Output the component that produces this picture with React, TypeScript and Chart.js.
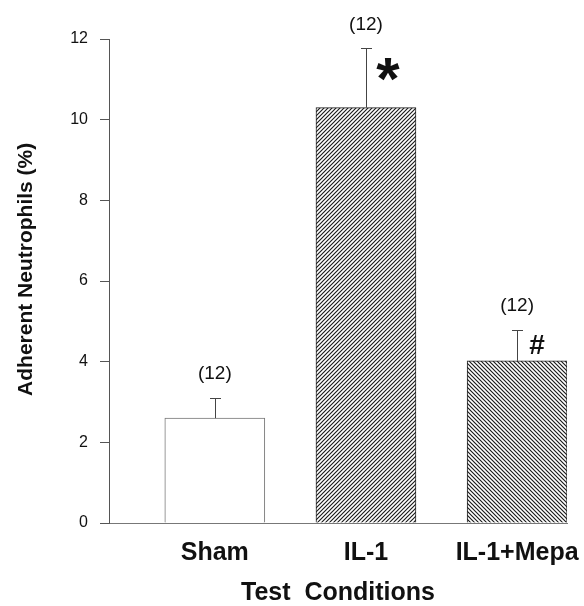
import React, { useEffect, useRef } from "react";
import { Chart, registerables } from "chart.js";

Chart.register(...registerables);

const categories = ["Sham", "IL-1", "IL-1+Mepa"];
const meanValues = [2.6, 10.3, 4.02];
const errorValues = [0.5, 1.47, 0.77];
const sampleLabels = ["(12)", "(12)", "(12)"];
const significanceMarks = ["", "*", "#"];
const yTickValues = [0, 2, 4, 6, 8, 10, 12];

const FONT = "Arial, 'Liberation Sans', Helvetica, sans-serif";

function makeHatch(dir: "slash" | "backslash"): CanvasPattern | string {
  const s = 4;
  const c = document.createElement("canvas");
  c.width = s;
  c.height = s;
  const g = c.getContext("2d");
  if (!g) return "#888";
  g.fillStyle = "#ffffff";
  g.fillRect(0, 0, s, s);
  g.strokeStyle = "#1a1a1a";
  g.lineWidth = 1.15;
  g.beginPath();
  if (dir === "slash") {
    g.moveTo(-1, s + 1);
    g.lineTo(s + 1, -1);
    g.moveTo(-1, 1);
    g.lineTo(1, -1);
    g.moveTo(s - 1, s + 1);
    g.lineTo(s + 1, s - 1);
  } else {
    g.moveTo(-1, -1);
    g.lineTo(s + 1, s + 1);
    g.moveTo(-1, s - 1);
    g.lineTo(1, s + 1);
    g.moveTo(s - 1, -1);
    g.lineTo(s + 1, 1);
  }
  g.stroke();
  const p = g.createPattern(c, "repeat");
  return p || "#888";
}

function drawCentered(ctx: CanvasRenderingContext2D, text: string, x: number, cy: number) {
  const m = ctx.measureText(text);
  const asc = m.actualBoundingBoxAscent;
  const desc = m.actualBoundingBoxDescent;
  ctx.textAlign = "center";
  ctx.textBaseline = "alphabetic";
  ctx.fillText(text, x, cy + (asc - desc) / 2);
}

const annotationPlugin = {
  id: "errorAndNotes",
  afterDatasetsDraw(chart: any) {
    const ctx: CanvasRenderingContext2D = chart.ctx;
    const meta = chart.getDatasetMeta(0);
    const yScale = chart.scales.y;
    ctx.save();
    meta.data.forEach((bar: any, i: number) => {
      const x = bar.x;
      const top = yScale.getPixelForValue(meanValues[i] + errorValues[i]);
      ctx.strokeStyle = "#444";
      ctx.lineWidth = 1;
      ctx.beginPath();
      ctx.moveTo(Math.round(x) + 0.5, bar.y);
      ctx.lineTo(Math.round(x) + 0.5, Math.round(top) + 0.5);
      ctx.moveTo(Math.round(x) - 5, Math.round(top) + 0.5);
      ctx.lineTo(Math.round(x) + 6, Math.round(top) + 0.5);
      ctx.stroke();

      ctx.fillStyle = "#111";
      ctx.font = `19px ${FONT}`;
      drawCentered(ctx, sampleLabels[i], x, top - 23);

      const mark = significanceMarks[i];
      if (mark === "*") {
        ctx.font = `bold 60px ${FONT}`;
        drawCentered(ctx, mark, x + 22, top + 21);
      } else if (mark === "#") {
        ctx.font = `bold 28px ${FONT}`;
        drawCentered(ctx, mark, x + 20, top + 15);
      }
    });
    ctx.restore();
  },
};

export default function App() {
  const ref = useRef<HTMLCanvasElement | null>(null);

  useEffect(() => {
    document.body.style.margin = "0";
    const canvas = ref.current;
    if (!canvas) return;
    const fills = ["#ffffff", makeHatch("slash"), makeHatch("backslash")];
    const borders = ["#777777", "#222222", "#222222"];

    const chart = new Chart(canvas, {
      type: "bar",
      data: {
        datasets: [
          {
            data: categories.map((_, i) => ({ x: i + 1, y: meanValues[i] })) as any,
            backgroundColor: fills as any,
            borderColor: borders,
            borderWidth: 1,
            barThickness: 100,
          },
        ],
      },
      options: {
        responsive: false,
        animation: false,
        devicePixelRatio: 1,
        layout: { padding: { top: 39, right: 17, left: 0, bottom: 0 } },
        plugins: {
          legend: { display: false },
          tooltip: { enabled: false },
        },
        scales: {
          x: {
            type: "linear",
            offset: false,
            min: 0.3,
            max: 3.33,
            afterBuildTicks: (scale: any) => {
              scale.ticks = categories.map((_, i) => ({ value: i + 1 }));
            },
            afterFit: (scale: any) => {
              scale.height = 83;
              scale.paddingLeft = 0;
              scale.paddingRight = 0;
            },
            grid: { display: false, offset: false },
            border: { display: true, color: "#777", width: 1 },
            ticks: {
              autoSkip: false,
              maxRotation: 0,
              padding: 10,
              color: "#111",
              font: { family: FONT, size: 25, weight: "bold", lineHeight: 1 },
              callback: (v: any) => categories[Number(v) - 1] ?? "",
            },
            title: {
              display: true,
              text: "Test  Conditions",
              color: "#111",
              font: { family: FONT, size: 25, weight: "bold", lineHeight: 1 },
              padding: { top: 0, bottom: 0 },
            },
          },
          y: {
            min: 0,
            max: 12,
            afterBuildTicks: (scale: any) => {
              scale.ticks = yTickValues.map((v) => ({ value: v }));
            },
            afterFit: (scale: any) => {
              scale.width = 109;
            },
            grid: {
              display: true,
              drawOnChartArea: false,
              drawTicks: true,
              tickLength: 9,
              color: "#555",
            },
            border: { display: true, color: "#555", width: 1 },
            ticks: {
              padding: 12,
              color: "#111",
              font: { family: FONT, size: 16, lineHeight: 1 },
            },
            title: {
              display: true,
              text: "    Adherent Neutrophils (%)",
              color: "#111",
              font: { family: FONT, size: 21, weight: "bold", lineHeight: 1 },
              padding: { top: 16, bottom: 0 },
            },
          },
        },
      },
      plugins: [annotationPlugin],
    });
    return () => chart.destroy();
  }, []);

  return (
    <div style={{ width: 584, height: 606 }}>
      <canvas ref={ref} width={584} height={606} style={{ display: "block", width: 584, height: 606 }} />
    </div>
  );
}
